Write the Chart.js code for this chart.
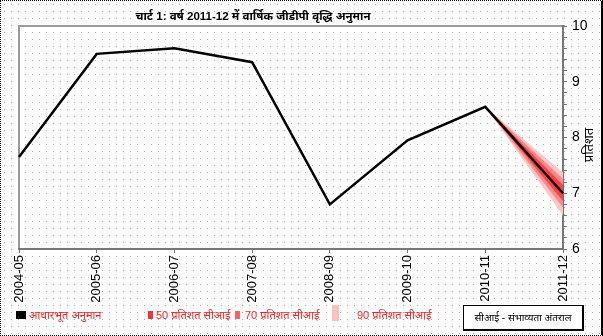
<!DOCTYPE html>
<html>
<head>
<meta charset="utf-8">
<script src="https://cdn.jsdelivr.net/npm/chart.js@4.4.0/dist/chart.umd.min.js"></script>
<style>
  html, body { margin: 0; padding: 0; background: #fff; }
  #wrap {
    position: relative; width: 603px; height: 336px; box-sizing: border-box;
    border: 1px dotted #000; border-right: 2px solid #000;
    font-family: "Liberation Sans", Arial, "Noto Sans", sans-serif;
  }
  #wrap canvas { position: absolute; left: 0; top: 0; }
  .title { position: absolute; left: 0; width: 504px; top: 7px; text-align: center;
           font-weight: bold; font-size: 11.5px; color: #000; }
  .lg { position: absolute; font-size: 11px; color: #ff2020; white-space: nowrap; }
  .sw { position: absolute; }
  .note { position: absolute; left: 462px; top: 304px; width: 121px; height: 26px; box-sizing: border-box;
          border: 1px solid #000; border-right-width: 2px; border-bottom-width: 2px;
          font-size: 10px; color: #000; text-align: center; line-height: 23px; background: #fff; }
</style>
</head>
<body>
<div id="wrap">
  <canvas id="chart_gdp" width="601" height="334"></canvas>
  <div class="title">चार्ट 1: वर्ष 2011-12 में वार्षिक जीडीपी वृद्धि अनुमान</div>

  <div class="sw" style="left:15px;top:310px;width:10px;height:8px;background:#000"></div>
  <div class="lg" style="left:28px;top:306px">आधारभूत अनुमान</div>
  <div class="sw" style="left:147px;top:310px;width:5px;height:8px;background:#ff3030"></div>
  <div class="lg" style="left:155px;top:306px">50 प्रतिशत सीआई</div>
  <div class="sw" style="left:234px;top:310px;width:5px;height:8px;background:#ff6060"></div>
  <div class="lg" style="left:244px;top:306px">70 प्रतिशत सीआई</div>
  <div class="sw" style="left:331px;top:304px;width:7px;height:16px;background:#ffc0c0"></div>
  <div class="lg" style="left:356px;top:306px">90 प्रतिशत सीआई</div>
  <div class="note">सीआई - संभाव्यता अंतराल</div>
</div>

<script>
// वर्ष
var years = ["2004-05", "2005-06", "2006-07", "2007-08", "2008-09", "2009-10", "2010-11", "2011-12"];
// आधारभूत अनुमान (प्रतिशत)
var baseline = [7.65, 9.5, 9.6, 9.35, 6.8, 7.95, 8.55, 7.0];
// fan bands, only last two years
var ci50Hi = [null, null, null, null, null, null, 8.55, 7.15];
var ci50Lo = [null, null, null, null, null, null, 8.55, 6.86];
var ci70Hi = [null, null, null, null, null, null, 8.55, 7.26];
var ci70Lo = [null, null, null, null, null, null, 8.55, 6.74];
var ci90Hi = [null, null, null, null, null, null, 8.55, 7.37];
var ci90Lo = [null, null, null, null, null, null, 8.55, 6.6];
var yTicks = [6, 7, 8, 9, 10];

function band(data, color, fillIt) {
    return {
        data: data,
        borderWidth: 0,
        borderColor: color,
        backgroundColor: color,
        pointRadius: 0,
        fill: fillIt ? '+1' : false
    };
}

// dotted background + plot frame + axis title
var decor = {
    id: 'decor',
    beforeDraw: function (chart) {
        var ctx = chart.ctx;
        ctx.save();
        ctx.fillStyle = '#a8a8a8';
        for (var y = 3; y < chart.height; y += 7) {
            for (var x = 3; x < chart.width; x += 7) {
                ctx.fillRect(x, y, 1, 1);
            }
        }
        var a = chart.chartArea;
        ctx.strokeStyle = '#9a9a9a';
        ctx.lineWidth = 2;
        ctx.beginPath();
        ctx.moveTo(a.left, a.bottom);
        ctx.lineTo(a.left, a.top);
        ctx.lineTo(a.right, a.top);
        ctx.stroke();
        ctx.restore();
    },
    afterDraw: function (chart) {
        var ctx = chart.ctx;
        ctx.save();
        ctx.translate(588, 144);
        ctx.rotate(-Math.PI / 2);
        ctx.fillStyle = '#000';
        ctx.font = '13px "Liberation Sans", Arial, "Noto Sans", sans-serif';
        ctx.textAlign = 'center';
        ctx.textBaseline = 'middle';
        ctx.fillText('प्रतिशत', 0, 0);
        ctx.restore();
    }
};

var config = {
    type: 'line',
    data: {
        labels: years,
        datasets: [
            {
                data: baseline,
                borderColor: '#000',
                borderWidth: 2.5,
                pointRadius: 0,
                tension: 0,
                fill: false
            },
            band(ci50Hi, '#ff4040', true),
            band(ci50Lo, '#ff4040', false),
            band(ci70Hi, '#ff8888', true),
            band(ci70Lo, '#ff8888', false),
            band(ci90Hi, '#ffc6c6', true),
            band(ci90Lo, '#ffc6c6', false)
        ]
    },
    options: {
        responsive: false,
        devicePixelRatio: 1,
        animation: { duration: 0 },
        layout: { padding: { left: 18, top: 25, right: 0, bottom: 0 } },
        plugins: {
            legend: { display: false },
            tooltip: { enabled: false }
        },
        scales: {
            x: {
                offset: false,
                grid: { drawOnChartArea: false, tickLength: 4, color: '#777', tickWidth: 1 },
                border: { color: '#777', width: 2 },
                ticks: {
                    autoSkip: false, minRotation: 90, maxRotation: 90, padding: 2,
                    color: '#000',
                    font: { family: '"Liberation Sans", Arial, sans-serif', size: 13 }
                },
                afterFit: function (s) { s.height = 86; }
            },
            y: {
                position: 'right',
                min: 6, max: 10,
                grid: { drawOnChartArea: false, tickLength: 4, color: '#777' },
                border: { color: '#777', width: 2 },
                ticks: {
                    stepSize: 0.2, autoSkip: false, padding: 5, color: '#000',
                    font: { family: '"Liberation Sans", Arial, sans-serif', size: 14 },
                    callback: function (v) {
                        var r = Math.round(v);
                        return (Math.abs(v - r) < 1e-6 && yTicks.indexOf(r) >= 0) ? String(r) : '';
                    }
                },
                afterFit: function (s) { s.width = 39; }
            }
        }
    },
    plugins: [decor]
};

var myChart = new Chart(document.getElementById('chart_gdp'), config);
</script>
</body>
</html>
